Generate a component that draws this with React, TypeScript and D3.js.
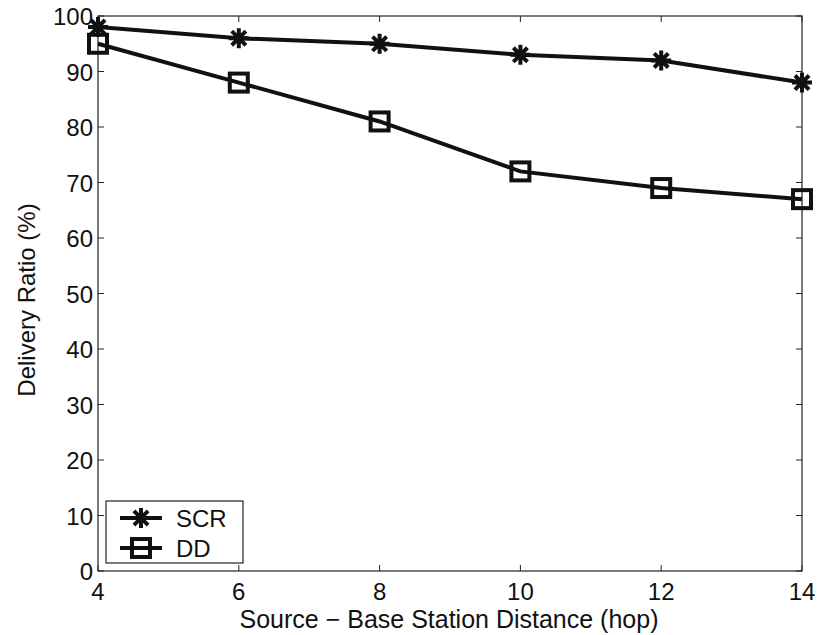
import React from 'react'
import * as d3 from 'd3'

const hops = [4, 6, 8, 10, 12, 14]
const scrValues = [98, 96, 95, 93, 92, 88]
const ddValues = [95, 88, 81, 72, 69, 67]
const xTicks = [4, 6, 8, 10, 12, 14]
const yTicks = [0, 10, 20, 30, 40, 50, 60, 70, 80, 90, 100]

const W = 818
const H = 635
const left = 98
const right = 802
const top = 16
const bottom = 571
const font = "'Liberation Sans', Arial, Helvetica, sans-serif"

function Star({ x, y, r }: { x: number; y: number; r: number }) {
  const d = [0, 45, 90, 135].map(a => {
    const rad = (a * Math.PI) / 180
    const dx = Math.cos(rad) * r
    const dy = Math.sin(rad) * r
    return `M${x - dx},${y - dy}L${x + dx},${y + dy}`
  }).join('')
  return <path d={d} stroke="#111" strokeWidth={4} />
}

function Square({ x, y, s }: { x: number; y: number; s: number }) {
  return <rect x={x - s / 2} y={y - s / 2} width={s} height={s} fill="none" stroke="#111" strokeWidth={4} />
}

export default function App() {
  const xScale = d3.scaleLinear().domain([4, 14]).range([left, right])
  const yScale = d3.scaleLinear().domain([0, 100]).range([bottom, top])
  const line = d3.line<number>()
    .x((d, i) => xScale(hops[i]))
    .y(d => yScale(d))

  return (
    <svg width={W} height={H} style={{ position: 'absolute', left: 0, top: 0, background: '#fff' }}>
      <rect x={0} y={0} width={W} height={H} fill="#fff" />
      {/* box */}
      <rect x={left} y={top} width={right - left} height={bottom - top} fill="none" stroke="#222" strokeWidth={1.2} />
      {xTicks.map(t => (
        <g key={'x' + t}>
          <line x1={xScale(t)} x2={xScale(t)} y1={bottom} y2={bottom - 6} stroke="#222" strokeWidth={1} />
          <line x1={xScale(t)} x2={xScale(t)} y1={top} y2={top + 6} stroke="#222" strokeWidth={1} />
          <text x={xScale(t)} y={bottom + 29} textAnchor="middle" fontFamily={font} fontSize={24} fill="#111">{t}</text>
        </g>
      ))}
      {yTicks.map(t => (
        <g key={'y' + t}>
          <line x1={left} x2={left + 6} y1={yScale(t)} y2={yScale(t)} stroke="#222" strokeWidth={1} />
          <line x1={right} x2={right - 6} y1={yScale(t)} y2={yScale(t)} stroke="#222" strokeWidth={1} />
          <text x={left - 5} y={yScale(t) + 9} textAnchor="end" fontFamily={font} fontSize={24} fill="#111">{t}</text>
        </g>
      ))}
      <text x={449} y={628} textAnchor="middle" fontFamily={font} fontSize={25} fill="#111">
        Source − Base Station Distance (hop)
      </text>
      <text transform="translate(35,300) rotate(-90)" textAnchor="middle" fontFamily={font} fontSize={24} fill="#111">
        Delivery Ratio (%)
      </text>

      <path d={line(scrValues) || ''} fill="none" stroke="#111" strokeWidth={4} />
      <path d={line(ddValues) || ''} fill="none" stroke="#111" strokeWidth={4} />
      {scrValues.map((v, i) => <Star key={'s' + i} x={xScale(hops[i])} y={yScale(v)} r={10} />)}
      {ddValues.map((v, i) => <Square key={'d' + i} x={xScale(hops[i])} y={yScale(v)} s={18} />)}

      {/* legend */}
      <rect x={106} y={501} width={137} height={62} fill="#fff" stroke="#222" strokeWidth={1.2} />
      <line x1={120} x2={162} y1={518} y2={518} stroke="#111" strokeWidth={4} />
      <Star x={141} y={518} r={10} />
      <text x={176} y={527} fontFamily={font} fontSize={24} fill="#111">SCR</text>
      <line x1={120} x2={162} y1={548} y2={548} stroke="#111" strokeWidth={4} />
      <Square x={141} y={548} s={18} />
      <text x={176} y={557} fontFamily={font} fontSize={24} fill="#111">DD</text>
    </svg>
  )
}
